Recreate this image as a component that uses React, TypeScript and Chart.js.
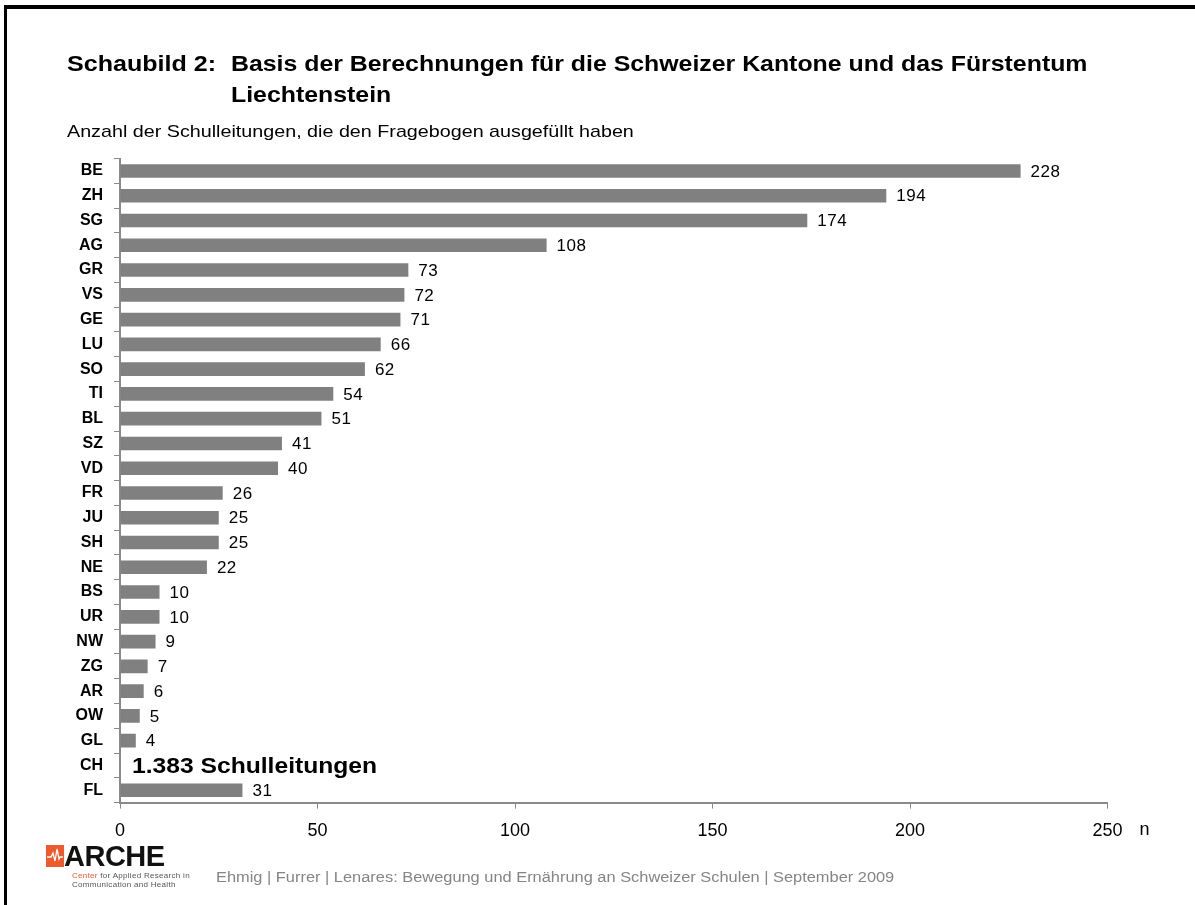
import React, { useEffect, useRef } from "react";
import { Chart, registerables } from "chart.js";

Chart.register(...registerables);

const cantons = ["BE", "ZH", "SG", "AG", "GR", "VS", "GE", "LU", "SO", "TI", "BL", "SZ", "VD", "FR", "JU", "SH", "NE", "BS", "UR", "NW", "ZG", "AR", "OW", "GL", "CH", "FL"];
const counts: (number | null)[] = [228, 194, 174, 108, 73, 72, 71, 66, 62, 54, 51, 41, 40, 26, 25, 25, 22, 10, 10, 9, 7, 6, 5, 4, null, 31];
const xTickValues = [0, 50, 100, 150, 200, 250];
const noteCategory = "CH";
const totalNote = "1.383 Schulleitungen";
const axisUnit = "n";
const titleLabel = "Schaubild 2:";
const titleText = "Basis der Berechnungen für die Schweizer Kantone und das Fürstentum Liechtenstein";
const subtitleText = "Anzahl der Schulleitungen, die den Fragebogen ausgefüllt haben";
const footerText = "Ehmig | Furrer | Lenares: Bewegung und Ernährung an Schweizer Schulen | September 2009";
const logoText = "ARCHE";
const logoSubA = "Center";
const logoSubB = " for Applied Research in";
const logoSubC = "Communication and Health";

const FONT = "'Liberation Sans', Arial, Helvetica, sans-serif";

const labelsPlugin = {
  id: "valueLabels",
  afterDatasetsDraw(chart: any) {
    const ctx = chart.ctx;
    const meta = chart.getDatasetMeta(0);
    const xs = chart.scales.x;
    const ys = chart.scales.y;
    ctx.save();
    ctx.fillStyle = "#000";
    ctx.textBaseline = "middle";
    ctx.textAlign = "left";
    ctx.font = `17px ${FONT}`;
    try { (ctx as any).letterSpacing = "0.5px"; } catch (e) {}
    meta.data.forEach((el: any, i: number) => {
      const v = counts[i];
      if (v == null) return;
      ctx.fillText(String(v), el.x + 10, el.y + 1);
    });
    try { (ctx as any).letterSpacing = "0px"; } catch (e) {}
    const idx = cantons.indexOf(noteCategory);
    ctx.save();
    ctx.translate(xs.getPixelForValue(0) + 12, ys.getPixelForValue(idx) + 1);
    ctx.scale(1.12, 1);
    ctx.font = `bold 22px ${FONT}`;
    ctx.fillText(totalNote, 0, 0);
    ctx.restore();
    ctx.font = `18px ${FONT}`;
    ctx.fillText(axisUnit, xs.right + 32, xs.top + 27);
    ctx.restore();
  },
};

function ChartCanvas() {
  const ref = useRef<HTMLCanvasElement | null>(null);
  useEffect(() => {
    if (!ref.current) return;
    const chart = new Chart(ref.current, {
      type: "bar",
      data: {
        labels: cantons,
        datasets: [
          {
            data: counts as any,
            backgroundColor: "#808080",
            borderWidth: 0,
            barPercentage: 0.55,
            categoryPercentage: 1,
          },
        ],
      },
      options: {
        animation: false,
        responsive: false,
        maintainAspectRatio: false,
        devicePixelRatio: 1,
        indexAxis: "y",
        layout: { padding: { top: 158.6, right: 87.5, left: 0, bottom: 0 } },
        plugins: { legend: { display: false }, tooltip: { enabled: false }, title: { display: false } },
        scales: {
          x: {
            min: 0,
            max: 250,
            afterBuildTicks: (s: any) => {
              s.ticks = xTickValues.map((v) => ({ value: v }));
            },
            ticks: { font: { family: FONT, size: 18 }, color: "#000", padding: 12, maxRotation: 0 },
            grid: { drawOnChartArea: false, tickLength: 6, color: "#8a8a8a", lineWidth: 1 },
            border: { color: "#8a8a8a", width: 2 },
            afterFit: (s: any) => {
              s.height = 905 - 802.6;
            },
          },
          y: {
            ticks: { font: { family: FONT, size: 16, weight: "bold" }, color: "#000", padding: 11, autoSkip: false },
            grid: { drawOnChartArea: false, tickLength: 6, color: "#8a8a8a", lineWidth: 1 },
            border: { color: "#8a8a8a", width: 2 },
            afterFit: (s: any) => {
              s.width = 120;
            },
          },
        },
      },
      plugins: [labelsPlugin],
    });
    return () => chart.destroy();
  }, []);
  return <canvas ref={ref} width={1195} height={905} style={{ position: "absolute", left: 0, top: 0, width: 1195, height: 905 }} />;
}

const stretch = (sx: number) => ({ transform: `scaleX(${sx})`, transformOrigin: "0 0" });

export default function App() {
  return (
    <div style={{ position: "fixed", left: 0, top: 0, width: 1195, height: 905, background: "#fff", overflow: "hidden", fontFamily: FONT }}>
      <ChartCanvas />
      <div style={{ position: "absolute", left: 4, top: 5, right: 0, height: 4, background: "#000" }} />
      <div style={{ position: "absolute", left: 4, top: 5, width: 3, bottom: 0, background: "#000" }} />
      <div style={{ position: "absolute", left: 67, top: 48, fontSize: 22, lineHeight: "31px", fontWeight: "bold", color: "#000", whiteSpace: "nowrap", ...stretch(1.14) }}>
        {titleLabel}
      </div>
      <div style={{ position: "absolute", left: 231, top: 48, width: 800, fontSize: 22, lineHeight: "31px", fontWeight: "bold", color: "#000", ...stretch(1.13) }}>
        {titleText}
      </div>
      <div style={{ position: "absolute", left: 67, top: 122.5, fontSize: 17, lineHeight: "17px", color: "#000", whiteSpace: "nowrap", ...stretch(1.16) }}>
        {subtitleText}
      </div>
      <div style={{ position: "absolute", left: 216, top: 869, fontSize: 15.5, lineHeight: "16px", color: "#858585", whiteSpace: "nowrap", ...stretch(1.058) }}>
        {footerText}
      </div>
      <svg style={{ position: "absolute", left: 46, top: 845 }} width={18} height={22} viewBox="0 0 18 22">
        <rect x={0} y={0} width={18} height={22} fill="#ee5a2c" />
        <polyline points="1,12 5,12 7,8 9,16 11,4 13,14 14,12 17,12" fill="none" stroke="#fff" strokeWidth={1.3} />
      </svg>
      <div style={{ position: "absolute", left: 64, top: 842, fontSize: 29, lineHeight: "29px", fontWeight: "bold", color: "#111", letterSpacing: -0.5, whiteSpace: "nowrap" }}>
        {logoText}
      </div>
      <div style={{ position: "absolute", left: 72, top: 871, fontSize: 8, lineHeight: "9px", letterSpacing: 0.3, color: "#555", whiteSpace: "nowrap" }}>
        <span style={{ color: "#ee5a2c" }}>{logoSubA}</span>
        {logoSubB}
        <br />
        {logoSubC}
      </div>
    </div>
  );
}
